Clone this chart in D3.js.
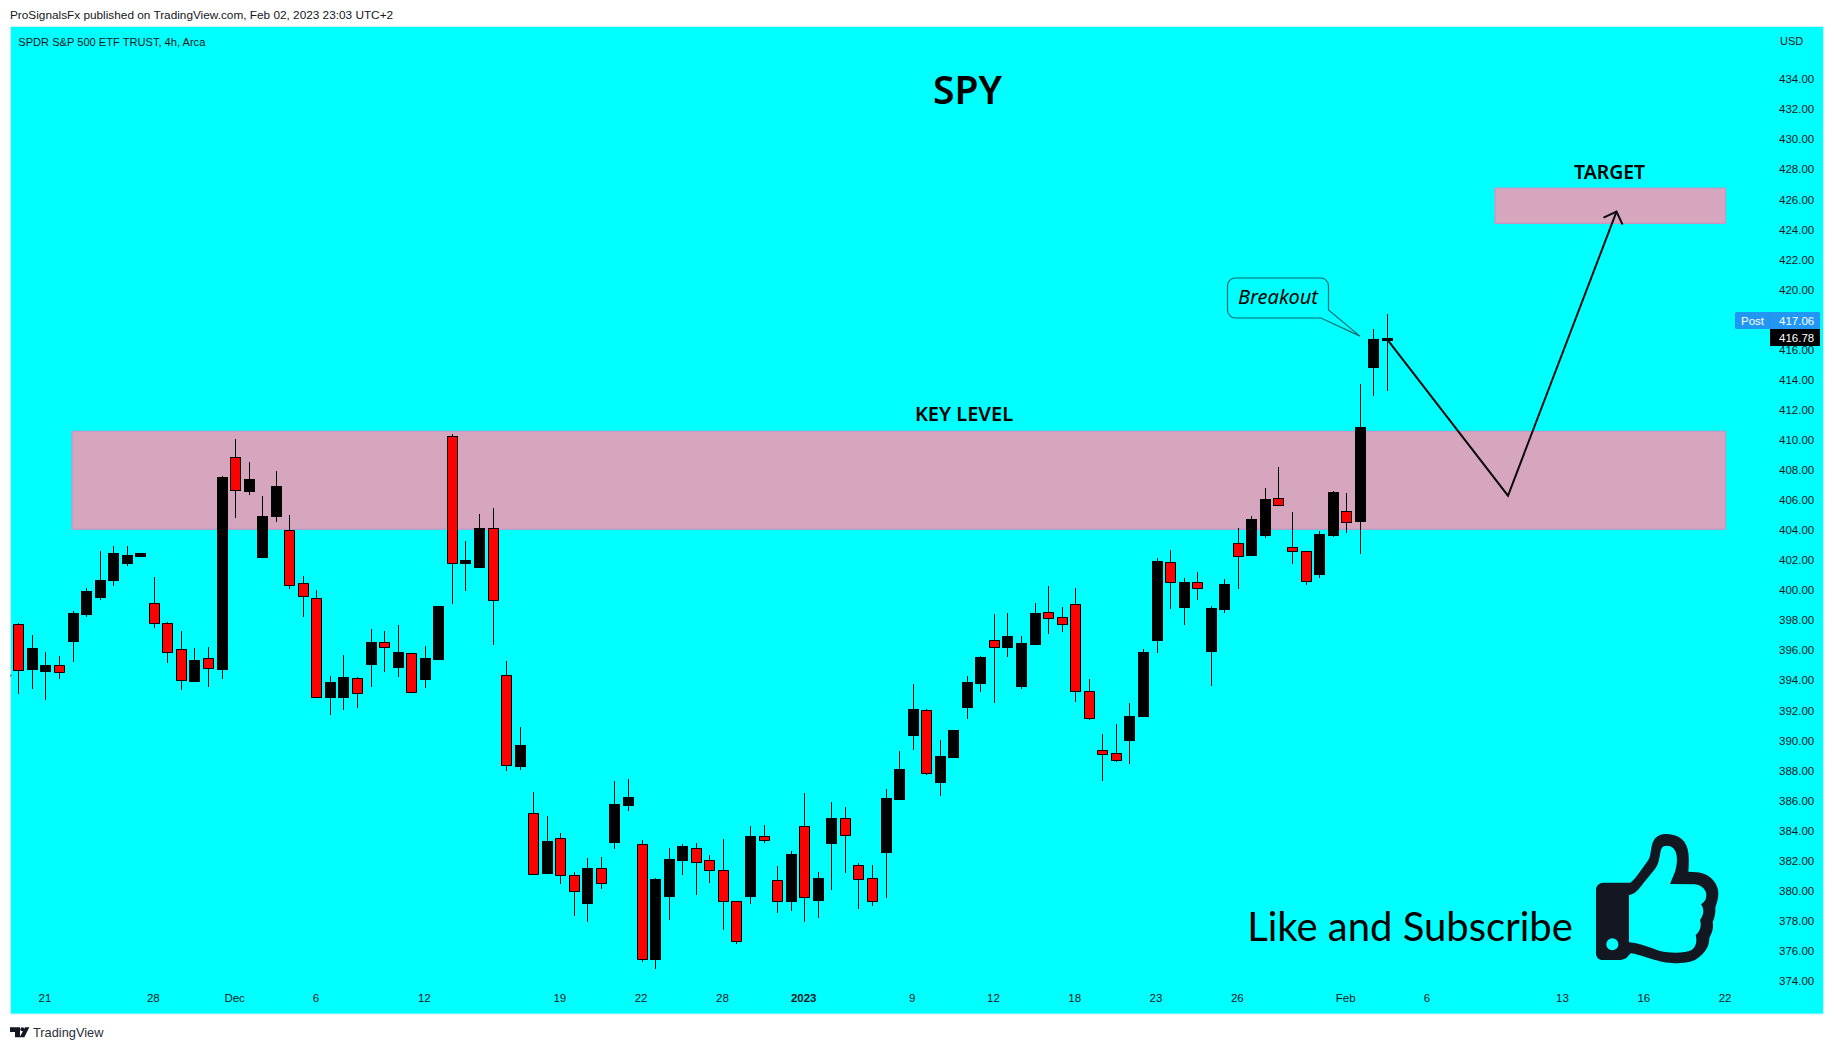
<!DOCTYPE html>
<html><head><meta charset="utf-8">
<script src="https://cdn.jsdelivr.net/npm/d3@7/dist/d3.min.js"></script>
<style>
html,body{margin:0;padding:0;background:#fff;overflow:hidden}
svg{display:block}
text{font-family:"Liberation Sans",sans-serif}
.axis text{font-size:11.5px;fill:#131722;font-family:"Liberation Sans",sans-serif}
.axis path,.axis line{display:none}
</style></head><body>
<script>
const opens = [397.72,394.75,394.62,395.00,396.62,398.41,399.54,400.67,401.81,402.27,399.12,397.79,396.06,393.95,395.46,394.75,408.84,406.60,402.20,404.93,403.98,400.45,399.45,392.89,392.89,394.13,395.09,396.53,394.89,395.79,394.09,395.42,410.23,401.81,401.54,404.12,394.32,388.31,385.20,381.18,383.54,381.07,379.16,381.48,383.24,385.71,383.09,375.45,379.65,382.04,382.81,382.02,381.35,379.34,379.65,383.62,380.69,379.34,384.33,379.37,383.16,384.87,381.74,380.87,382.58,386.09,390.37,392.00,387.24,388.90,392.23,393.82,396.68,396.22,393.62,396.42,398.52,398.19,399.06,393.27,389.34,389.14,390.03,391.63,396.68,401.85,398.88,400.52,395.95,398.75,403.11,402.34,403.67,406.11,402.85,402.58,401.07,403.67,405.24,404.60,414.84,416.64];
const highs = [397.81,397.01,395.88,395.62,398.61,400.14,402.60,402.94,402.94,402.47,400.87,397.88,397.28,396.15,396.22,407.59,410.06,408.52,406.26,407.93,405.00,400.94,400.01,394.29,395.68,394.22,397.41,397.28,397.68,395.82,396.28,398.94,410.39,403.27,405.07,405.47,395.28,390.88,386.57,384.97,383.82,381.25,382.17,382.25,387.29,387.44,383.37,380.84,382.83,383.11,383.16,382.37,383.44,379.34,384.31,384.36,381.63,382.63,386.50,381.25,385.89,385.56,381.84,381.71,386.75,389.30,393.76,392.07,390.01,390.69,394.29,395.62,398.41,398.48,396.95,399.14,400.28,398.88,400.14,394.09,390.43,391.09,392.49,396.08,402.14,402.67,400.81,401.21,398.94,400.74,404.13,404.93,406.80,408.19,405.20,402.60,403.93,406.60,406.46,413.71,417.37,418.37];
const lows = [393.09,393.42,392.69,394.09,395.22,398.21,399.34,400.27,401.61,402.20,397.48,395.15,393.36,393.95,393.55,394.09,404.80,406.33,402.20,404.53,400.08,398.21,392.91,391.69,392.02,392.16,393.55,394.55,394.22,393.24,393.49,395.42,399.08,399.94,401.50,396.35,387.95,388.03,381.12,381.10,380.44,378.32,377.92,380.11,382.78,385.30,375.24,374.78,378.04,381.05,379.70,380.51,377.38,376.44,379.11,383.16,378.50,378.65,377.92,378.17,380.03,381.18,378.78,378.99,379.52,386.09,389.35,387.69,386.29,388.83,391.41,393.22,392.49,395.55,393.42,396.42,397.08,397.21,392.56,391.36,387.30,388.57,388.43,391.63,395.82,398.75,397.68,399.34,393.62,398.48,400.08,402.34,403.47,405.60,401.74,400.34,400.81,403.54,403.80,402.40,412.91,413.25];
const closes = [394.71,396.15,395.02,394.58,398.48,399.94,400.67,402.47,402.34,402.47,397.84,395.91,394.04,395.35,394.84,407.53,406.68,407.39,404.93,406.93,400.36,399.63,392.91,393.89,394.22,393.18,396.55,396.24,395.88,393.24,395.48,398.94,401.83,402.00,404.13,399.36,388.38,389.68,381.12,383.31,381.07,380.00,381.51,380.54,385.76,386.24,375.47,380.77,382.09,382.96,381.94,381.40,379.34,376.67,383.65,383.39,379.34,382.45,379.55,380.84,384.84,383.72,380.79,379.34,386.17,388.10,392.07,387.85,388.97,390.69,393.89,395.55,396.22,396.95,396.48,398.48,398.17,397.77,393.31,391.52,389.12,388.72,391.63,395.88,401.94,400.56,400.54,400.16,398.81,400.41,402.29,404.73,406.06,405.69,402.63,400.63,403.74,406.53,404.56,410.85,416.70,416.79];
const priceTicks = [374,376,378,380,382,384,386,388,390,392,394,396,398,400,402,404,406,408,410,412,414,416,418,420,422,424,426,428,430,432,434];
const dateTickIdx = [2,10,16,22,30,40,46,52,58,66,72,78,84,90,98,104,114,120,126];
const dateTickLabels = ["21","28","Dec","6","12","19","22","28","2023","9","12","18","23","26","Feb","6","13","16","22"];
const keyZone = {x0:3.96,x1:126,top:410.57,bottom:404.05};
const targetZone = {x0:108.98,x1:126,top:426.75,bottom:424.40};
const projIdx = [100.97,109.94,117.95];
const projPrice = [416.75,406.28,425.18];

const W=1834,H=1050;
const svg=d3.select("body").append("svg").attr("width",W).attr("height",H);
const x=d3.scaleLinear().domain([0,101]).range([18.3,1386.85]);
const y=d3.scaleLinear().domain([374,434]).range([980.9,79.1]);
const bw=5;

svg.append("rect").attr("x",10.5).attr("y",26.5).attr("width",1813).attr("height",987.5)
  .attr("fill","#00ffff").attr("stroke","#c8f4f8").attr("stroke-width",1);

// header / footer
svg.append("text").attr("x",10).attr("y",18.5).attr("font-size",11.8).attr("fill","#131722")
  .text("ProSignalsFx published on TradingView.com, Feb 02, 2023 23:03 UTC+2");
svg.append("text").attr("x",18.3).attr("y",46).attr("font-size",11.1).attr("fill","#131722")
  .text("SPDR S&P 500 ETF TRUST, 4h, Arca");
svg.append("text").attr("x",33).attr("y",1037).attr("font-size",12.8).attr("fill","#2a2e39").text("TradingView");
const logo=svg.append("g").attr("fill","#131722").attr("transform","translate(0,960) scale(0.3333)");
logo.append("path").attr("d","M30,202H60V232H45V216H30Z");
logo.append("circle").attr("cx",67).attr("cy",208).attr("r",6);
logo.append("path").attr("d","M75,202H88L73,232H59Z");

// small marker on left edge
svg.append("rect").attr("x",10).attr("y",674.5).attr("width",1.5).attr("height",2).attr("fill","#8a6a7a");

// zones
[keyZone,targetZone].forEach(z=>{
  svg.append("rect").attr("x",x(z.x0)).attr("y",y(z.top)).attr("width",x(z.x1)-x(z.x0)).attr("height",y(z.bottom)-y(z.top))
    .attr("fill","#d6a5be").attr("stroke","#cf8fc0").attr("stroke-width",1);
});

// candles
const idx=d3.range(opens.length);
const c=svg.append("g").attr("shape-rendering","crispEdges");
c.selectAll("line").data(idx).join("line")
  .attr("x1",i=>Math.round(x(i))+0.5).attr("x2",i=>Math.round(x(i))+0.5)
  .attr("y1",i=>y(highs[i])).attr("y2",i=>y(lows[i]))
  .attr("stroke","#000").attr("stroke-width",1);
c.selectAll("rect").data(idx).join("rect")
  .attr("x",i=>Math.round(x(i))-bw+0.5).attr("width",bw*2)
  .attr("y",i=>Math.round(y(Math.max(opens[i],closes[i])))+0.5)
  .attr("height",i=>Math.max(1,Math.round(y(Math.min(opens[i],closes[i])))-Math.round(y(Math.max(opens[i],closes[i])))))
  .attr("fill",i=>closes[i]<opens[i]?"#ff0000":"#000")
  .attr("stroke","#000").attr("stroke-width",1);

// projection arrow
const pts=projIdx.map((d,i)=>[x(d),y(projPrice[i])]);
svg.append("path").attr("d",d3.line()(pts)).attr("fill","none").attr("stroke","#0a0a0a").attr("stroke-width",2);
const e=pts[2];
svg.append("path").attr("d",`M${e[0]-13},${e[1]+6}L${e[0]},${e[1]}L${e[0]+6},${e[1]+13}`).attr("fill","none").attr("stroke","#0a0a0a").attr("stroke-width",2);

// labels
const lab=(t,xx,yy,s,o={})=>svg.append("text").attr("x",xx).attr("y",yy).attr("text-anchor",o.a||"middle")
  .attr("font-size",s).attr("font-weight",o.w||"normal").attr("font-style",o.i?"italic":"normal")
  .attr("fill",o.f||"#000").style("font-family",o.ff||'"Noto Sans"').text(t);
lab("SPY",967.5,104,39,{w:600});
lab("KEY LEVEL",964,420.5,20,{w:600});
lab("TARGET",1609.6,179,19.4,{w:600});
lab("Like and Subscribe",1410,941,40,{ff:"Lato"});

// callout
const tip=[x(99)+0.2,y(416.9)];
svg.append("path").attr("d",`M1236,278H1320a8,8 0 0 1 8.5,8V310L${tip[0]},${tip[1]}L1321,318H1236a8,8 0 0 1 -8.5,-8V286a8,8 0 0 1 8.5,-8Z`)
  .attr("fill","#00ffff").attr("stroke","#006a70").attr("stroke-width",1.2);
lab("Breakout",1278,304,20,{i:true});

// thumb
const th=svg.append("g").attr("transform","translate(1590,825) scale(0.33333)");
th.append("path").attr("fill","#131722").attr("fill-rule","evenodd").attr("d",
 "M40,173L120,173C130,170 150,140 175,105C185,90 180,65 192,45C205,25 235,22 265,35C295,50 300,85 295,140L320,142C360,145 385,175 385,205C385,225 378,240 376,248C378,265 372,280 368,292C372,310 365,325 358,340C358,365 345,385 320,402C300,415 260,418 215,410C180,403 150,388 122,385L112,396C105,404 95,405 80,405L35,405C25,405 18,395 18,385L18,195C18,182 28,173 40,173Z"+
 "M117,210C135,208 145,195 160,175L195,132C210,115 208,85 215,70C220,60 240,60 250,70C265,85 262,120 255,140L240,177L315,178C335,180 350,195 349,212C348,225 342,232 333,238C345,255 340,272 330,285C335,300 332,318 317,330C322,350 318,365 305,375C285,385 240,385 210,378C180,368 150,355 117,352Z");
th.append("circle").attr("cx",67).attr("cy",358).attr("r",18).attr("fill","#00ffff");

// axes
svg.append("g").attr("class","axis").attr("transform","translate(1776,0)")
  .call(d3.axisRight(y).tickValues(priceTicks).tickSize(0).tickPadding(3).tickFormat(d3.format(".2f")));
svg.append("g").attr("class","axis").attr("transform","translate(-1,988)")
  .call(d3.axisBottom(x).tickValues(dateTickIdx).tickSize(0).tickPadding(6).tickFormat((d,i)=>dateTickLabels[i]))
  .selectAll("text").attr("font-weight",(d,i)=>dateTickLabels[i]==="2023"?"bold":"normal");
svg.select(".axis").selectAll("text").attr("text-anchor","start");
svg.append("text").attr("x",1780).attr("y",45).attr("font-size",11).attr("fill","#131722").text("USD");

// price tags
svg.append("rect").attr("x",1735).attr("y",312).attr("width",85).attr("height",17).attr("rx",1.5).attr("fill","#2196f3");
svg.append("rect").attr("x",1769).attr("y",312).attr("width",1).attr("height",17).attr("fill","#2a8ce0");
svg.append("text").attr("x",1741).attr("y",325).attr("font-size",11.5).attr("fill","#fff").text("Post");
svg.append("text").attr("x",1779).attr("y",325).attr("font-size",11.5).attr("fill","#fff").text("417.06");
svg.append("rect").attr("x",1770).attr("y",329).attr("width",50).attr("height",17).attr("fill","#000");
svg.append("text").attr("x",1779).attr("y",342).attr("font-size",11.5).attr("fill","#fff").text("416.78");
</script></body></html>
